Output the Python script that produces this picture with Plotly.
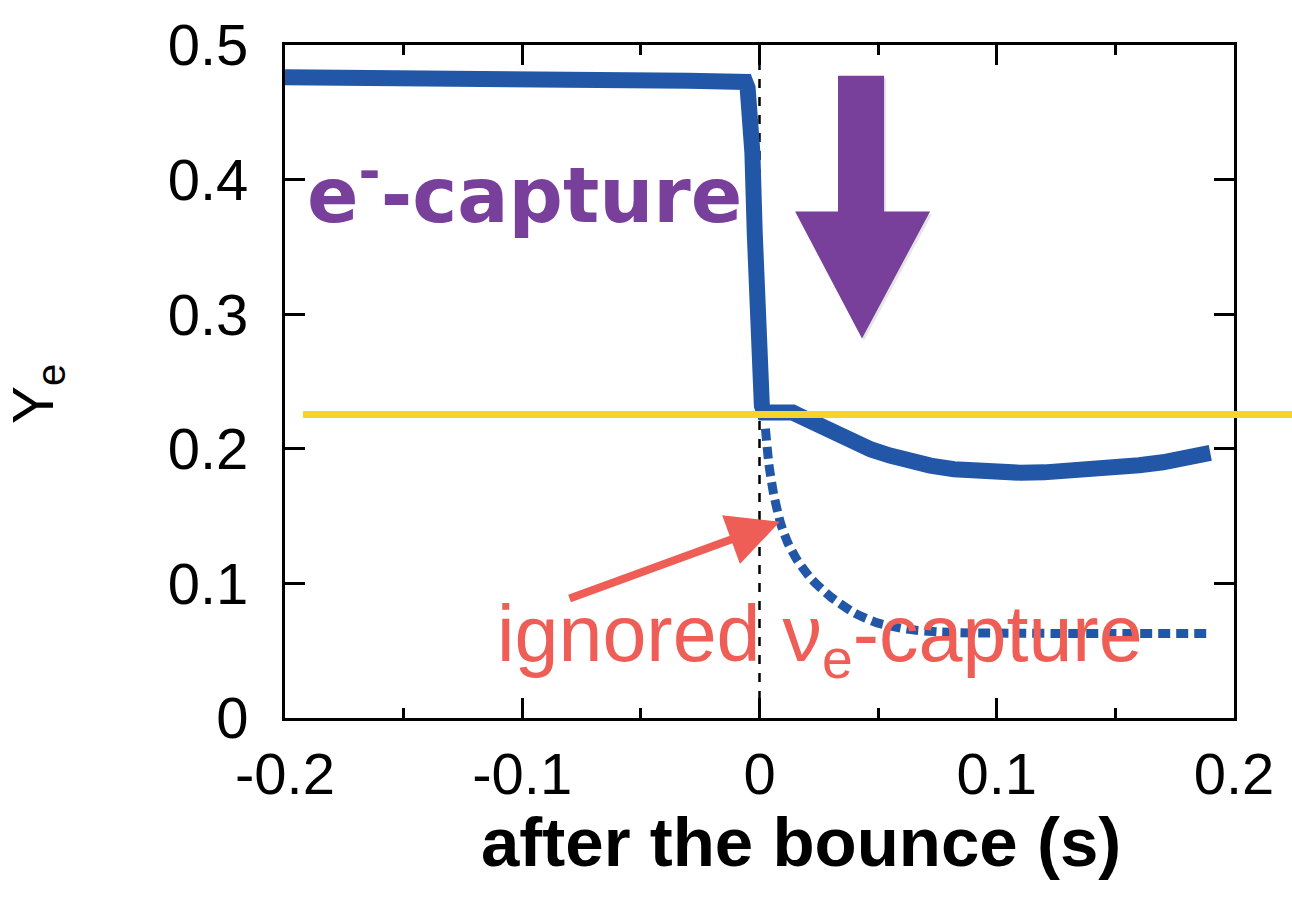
import plotly.graph_objects as go

# ---------------- data ----------------
t_solid = [-0.2, -0.15, -0.1, -0.07, -0.05, -0.049, -0.048, -0.03, -0.02, -0.015, -0.012, -0.01,
           -0.008, -0.006, -0.005, -0.004, -0.003, -0.002, -0.001, 0.0, 0.001, 0.002, 0.004,
           0.007, 0.010, 0.014, 0.018, 0.023, 0.028, 0.034, 0.040, 0.047, 0.055, 0.063, 0.072,
           0.082, 0.092, 0.10, 0.11, 0.12, 0.13, 0.14, 0.15, 0.16, 0.17, 0.18, 0.19]
ye_solid = [0.476, 0.476, 0.475, 0.4745, 0.4735, 0.4755, 0.4735, 0.4735, 0.473, 0.4735, 0.472, 0.4735,
            0.473, 0.4725, 0.468, 0.455, 0.42, 0.36, 0.30, 0.255, 0.232, 0.227, 0.227,
            0.229, 0.229, 0.227, 0.2235, 0.219, 0.2145, 0.2095, 0.2045, 0.1995, 0.195, 0.191, 0.1875,
            0.1848, 0.183, 0.1825, 0.1822, 0.1825, 0.1833, 0.1845, 0.186, 0.1878, 0.190, 0.1935, 0.197]

t_dash = [0.0025, 0.004, 0.006, 0.009, 0.012, 0.016, 0.022, 0.030, 0.040, 0.050, 0.062, 0.075,
          0.090, 0.110, 0.130, 0.160, 0.190]
ye_dash = [0.215, 0.188, 0.166, 0.144, 0.130, 0.117, 0.103, 0.090, 0.078, 0.0705, 0.066, 0.064,
           0.0632, 0.063, 0.0628, 0.0627, 0.0627]

ye_threshold = 0.2255

x_ticks = [-0.2, -0.1, 0.0, 0.1, 0.2]
x_ticktext = ["-0.2", "-0.1", "0", "0.1", "0.2"]
y_ticks = [0, 0.1, 0.2, 0.3, 0.4, 0.5]
y_ticktext = ["0", "0.1", "0.2", "0.3", "0.4", "0.5"]

label_ecap = "e<sup>-</sup>-capture"
label_nucap = "ignored ν<sub>e</sub>-capture"
x_title = "after the bounce (s)"
y_title = "Y<sub>e</sub>"

# purple arrow (data coords)
arrow_shaft_x = [0.0331, 0.0525]
arrow_head_x = [0.0150, 0.0719]
arrow_tip_x = 0.0432
arrow_top_y = 0.4772
arrow_neck_y = 0.3763
arrow_tip_y = 0.2820

# red arrow (data coords)
red_tail = (-0.0807, 0.0884)
red_tip = (0.0086, 0.1458)

BLUE = "#2257a7"
PURPLE = "#783f9b"
RED = "#ee5e57"
YELLOW = "#f6d32a"
FONT = "Liberation Sans, Arial, Helvetica, sans-serif"

fig = go.Figure()
fig.add_trace(go.Scatter(x=t_dash, y=ye_dash, mode="lines",
                         line=dict(color=BLUE, width=9, dash="12px,6px", shape="spline", smoothing=0.6),
                         showlegend=False, hoverinfo="skip"))
fig.add_trace(go.Scatter(x=t_solid, y=ye_solid, mode="lines",
                         line=dict(color=BLUE, width=16),
                         showlegend=False, hoverinfo="skip"))

# vertical dashed line at bounce
fig.add_shape(type="line", xref="x", yref="paper", x0=0, x1=0, y0=0, y1=1,
              line=dict(color="black", width=2.5, dash="9px,9px"), layer="below")

# yellow threshold line (extends beyond plot to the right)
fig.add_shape(type="line", xref="paper", yref="y", x0=0.019, x1=1.07,
              y0=ye_threshold, y1=ye_threshold,
              line=dict(color=YELLOW, width=7), layer="above")

# purple arrow shadow + arrow
def arrow_path(dx=0.0, dy=0.0):
    return (f"M{arrow_shaft_x[0]+dx},{arrow_top_y+dy} L{arrow_shaft_x[1]+dx},{arrow_top_y+dy} "
            f"L{arrow_shaft_x[1]+dx},{arrow_neck_y+dy} L{arrow_head_x[1]+dx},{arrow_neck_y+dy} "
            f"L{arrow_tip_x+dx},{arrow_tip_y+dy} L{arrow_head_x[0]+dx},{arrow_neck_y+dy} "
            f"L{arrow_shaft_x[0]+dx},{arrow_neck_y+dy} Z")

fig.add_shape(type="path", xref="x", yref="y", path=arrow_path(0.0008, -0.002),
              fillcolor="rgba(0,0,0,0.10)", line=dict(width=0), layer="above")
fig.add_shape(type="path", xref="x", yref="y", path=arrow_path(),
              fillcolor=PURPLE, line=dict(width=0), layer="above")

# texts
fig.add_annotation(x=-0.1915, y=0.392, xref="x", yref="y", text=label_ecap, showarrow=False,
                   xanchor="left", yanchor="middle",
                   font=dict(family="DejaVu Sans", size=76, color=PURPLE, weight="bold"))
fig.add_annotation(x=0.0255, y=0.058, xref="x", yref="y", text=label_nucap, showarrow=False,
                   xanchor="center", yanchor="middle",
                   font=dict(family=FONT, size=79, color=RED))

# red arrow
fig.add_annotation(x=red_tip[0], y=red_tip[1], ax=red_tail[0], ay=red_tail[1],
                   xref="x", yref="y", axref="x", ayref="y", text="",
                   showarrow=True, arrowhead=2, arrowsize=1.3, arrowwidth=8,
                   arrowcolor=RED, standoff=0)

# axis titles as annotations
fig.add_annotation(x=0.5437, y=-0.1856, xref="paper", yref="paper", text=x_title,
                   showarrow=False, xanchor="center", yanchor="middle",
                   font=dict(family=FONT, size=69, color="black", weight="bold"))
fig.add_annotation(x=-0.262, y=0.482, xref="paper", yref="paper", text=y_title,
                   showarrow=False, textangle=-90, xanchor="center", yanchor="middle",
                   font=dict(family=FONT, size=57, color="black"))

fig.update_xaxes(range=[-0.2, 0.2], tickvals=x_ticks, ticktext=x_ticktext,
                 ticks="inside", ticklen=20, tickwidth=3, tickcolor="black",
                 showline=True, linewidth=3, linecolor="black", mirror="ticks",
                 showgrid=False, zeroline=False, ticklabelstandoff=3,
                 tickfont=dict(family=FONT, size=58, color="black"),
                 minor=dict(dtick=0.05, ticks="inside", ticklen=10, tickwidth=3,
                            tickcolor="black", showgrid=False))
fig.update_yaxes(range=[0, 0.5], tickvals=y_ticks, ticktext=y_ticktext,
                 ticks="inside", ticklen=20, tickwidth=3, tickcolor="black",
                 showline=True, linewidth=3, linecolor="black", mirror="ticks",
                 showgrid=False, zeroline=False, ticklabelstandoff=22,
                 tickfont=dict(family=FONT, size=58, color="black"))

fig.update_layout(width=1292, height=899,
                  margin=dict(l=285, r=58, t=37, b=181),
                  paper_bgcolor="white", plot_bgcolor="white", showlegend=False)

fig.write_html("out.html")
